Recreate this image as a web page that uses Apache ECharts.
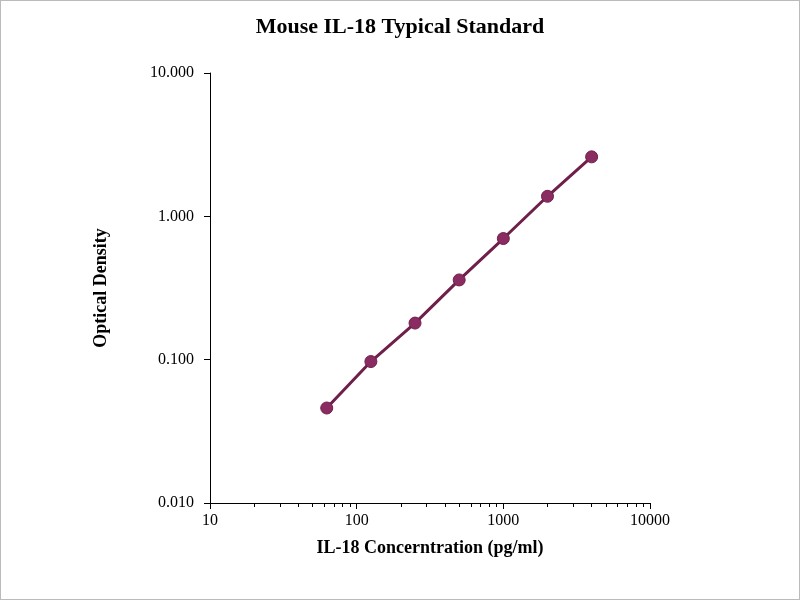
<!DOCTYPE html>
<html>
<head>
<meta charset="utf-8">
<script src="https://cdn.jsdelivr.net/npm/echarts@6/dist/echarts.min.js"></script>
<style>
html,body{margin:0;padding:0;background:#fff;}
#main{width:798px;height:598px;border:1px solid #bbb;}
</style>
</head>
<body>
<div id="main"></div>
<script>
// standard curve data
var concentrations = [62.5, 125, 250, 500, 1000, 2000, 4000];
var odValues = [0.046, 0.097, 0.180, 0.360, 0.700, 1.380, 2.600];

var points = concentrations.map(function (c, i) { return [c, odValues[i]]; });
var font = '"Liberation Serif", "Times New Roman", serif';

var myChart = echarts.init(document.getElementById('main'));
var option = {
    animation: false,
    title: {
        text: 'Mouse IL-18 Typical Standard',
        left: 'center',
        top: 10,
        textStyle: { fontFamily: font, fontSize: 22, fontWeight: 'bold', color: '#000' }
    },
    grid: { left: 209, right: 149, top: 72, bottom: 96 },
    xAxis: {
        type: 'log',
        logBase: 10,
        min: 10,
        max: 10000,
        name: 'IL-18 Concerntration (pg/ml)',
        nameLocation: 'middle',
        nameGap: 36,
        nameTextStyle: { fontFamily: font, fontSize: 18, fontWeight: 'bold', color: '#000' },
        axisLine: { lineStyle: { color: '#000', width: 1 } },
        axisTick: { inside: false, length: 6, lineStyle: { color: '#000' } },
        minorTick: { show: true, splitNumber: 9, length: 4, lineStyle: { color: '#000' } },
        axisLabel: {
            fontFamily: font, fontSize: 16, color: '#000', margin: 10,
            formatter: function (v) { return String(Math.round(v)); }
        },
        splitLine: { show: false }
    },
    yAxis: {
        type: 'log',
        logBase: 10,
        min: 0.01,
        max: 10,
        name: 'Optical Density',
        nameLocation: 'middle',
        nameGap: 100,
        nameTextStyle: { fontFamily: font, fontSize: 18, fontWeight: 'bold', color: '#000' },
        axisLine: { show: true, lineStyle: { color: '#000', width: 1 } },
        axisTick: { show: true, length: 6, lineStyle: { color: '#000' } },
        axisLabel: {
            fontFamily: font, fontSize: 16, color: '#000', margin: 16,
            formatter: function (v) { return Number(v).toFixed(3); }
        },
        splitLine: { show: false }
    },
    series: [{
        type: 'line',
        data: points,
        symbol: 'circle',
        symbolSize: 12,
        lineStyle: { color: '#6e1f4a', width: 3 },
        itemStyle: { color: '#8a2c62', borderColor: '#6e1f4a', borderWidth: 1 }
    }]
};
myChart.setOption(option);
</script>
</body>
</html>
